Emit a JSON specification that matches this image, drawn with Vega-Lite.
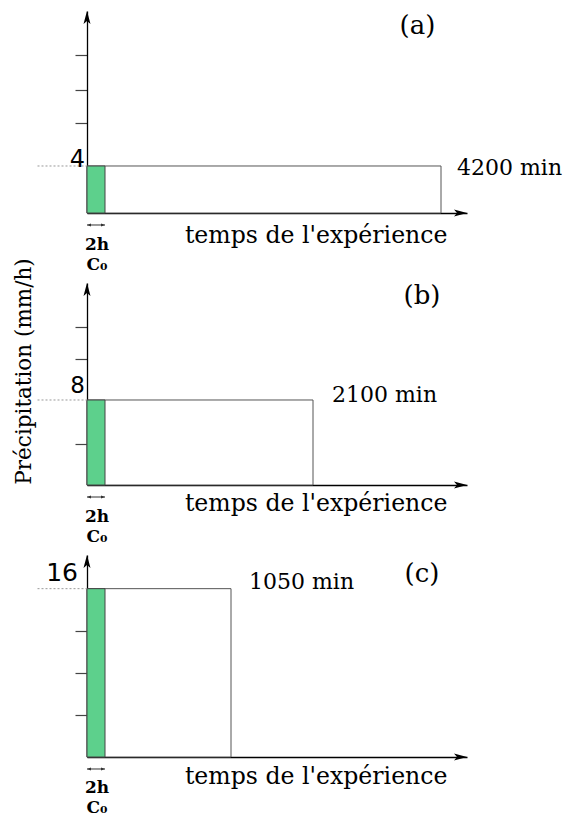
{
  "$schema": "https://vega.github.io/schema/vega-lite/v6.json",
  "background": "white",
  "padding": {"left": 12, "top": 11, "right": 5, "bottom": 5},
  "bounds": "flush",
  "spacing": 70,
  "config": {
    "view": {"stroke": null},
    "axis": {"grid": false, "domainColor": "black", "domainWidth": 1.3, "tickColor": "#444", "tickWidth": 1.2, "tickSize": 12, "labels": false, "zindex": 1, "titleFont": "DejaVu Serif", "titleFontWeight": "normal", "titleColor": "black"},
    "text": {"font": "DejaVu Serif", "color": "black"}
  },
  "vconcat": [
    {
      "width": 380, "height": 202,
      "data": {"values": [{"t0": 0, "t_c0": 120, "t_end": 4200, "p0": 0, "p": 4, "end_label": "4200 min", "dur_label": "2h", "c0_label": "C₀", "tag": "(a)"}]},
      "layer": [
        {"mark": {"type": "rect", "fill": "white", "stroke": "#555", "strokeWidth": 1},
         "encoding": {
           "x": {"field": "t0", "type": "quantitative", "scale": {"domain": [0, 120, 1050, 2100, 4200, 5000], "range": [0, 18, 144, 226, 354, 380], "nice": false, "zero": false},
                 "axis": {"ticks": false, "title": "temps de l'expérience", "titleX": 360, "titleY": 29, "titleAlign": "right", "titleBaseline": "alphabetic", "titleFontSize": 23.6}},
           "x2": {"field": "t_end"},
           "y": {"field": "p0", "type": "quantitative", "scale": {"domain": [0, 17.19], "nice": false, "zero": false}, "axis": {"values": [7.66, 10.47, 13.45], "title": null}},
           "y2": {"field": "p"}}},
        {"mark": {"type": "rect", "fill": "#5dd08c", "stroke": "#444", "strokeWidth": 1},
         "encoding": {"x": {"field": "t0", "type": "quantitative"}, "x2": {"field": "t_c0"}, "y": {"field": "p0", "type": "quantitative"}, "y2": {"field": "p"}}},
        {"mark": {"type": "rule", "strokeDash": [2, 2], "color": "#999", "strokeWidth": 1},
         "encoding": {"x": {"datum": -330, "type": "quantitative"}, "x2": {"datum": 0}, "y": {"field": "p", "type": "quantitative"}}},
        {"mark": {"type": "text", "font": "DejaVu Sans", "fontSize": 24, "align": "right", "baseline": "alphabetic", "dx": -2, "dy": 1},
         "encoding": {"x": {"field": "t0", "type": "quantitative"}, "y": {"field": "p", "type": "quantitative"}, "text": {"field": "p", "type": "nominal"}}},
        {"mark": {"type": "text", "fontSize": 22, "align": "left", "baseline": "alphabetic", "dx": 16, "dy": 9},
         "encoding": {"x": {"field": "t_end", "type": "quantitative"}, "y": {"field": "p", "type": "quantitative"}, "text": {"field": "end_label", "type": "nominal"}}},
        {"mark": {"type": "text", "fontSize": 26, "align": "center", "baseline": "middle"},
         "encoding": {"x": {"datum": 3814, "type": "quantitative"}, "y": {"datum": 15.9, "type": "quantitative"}, "text": {"field": "tag", "type": "nominal"}}},
        {"mark": {"type": "point", "shape": "M0,0L0.7,2.6L0,2L-0.7,2.6Z", "size": 100, "filled": true, "color": "black", "opacity": 1},
         "encoding": {"x": {"field": "t0", "type": "quantitative"}, "y": {"datum": 17.19, "type": "quantitative"}}},
        {"mark": {"type": "point", "shape": "M0,0L-2.6,-0.7L-2,0L-2.6,0.7Z", "size": 100, "filled": true, "color": "black", "opacity": 1},
         "encoding": {"x": {"datum": 5000, "type": "quantitative"}, "y": {"field": "p0", "type": "quantitative"}}},
        {"mark": {"type": "rule", "color": "#333", "strokeWidth": 1},
         "encoding": {"x": {"field": "t0", "type": "quantitative"}, "x2": {"field": "t_c0"}, "y": {"datum": -1.02, "type": "quantitative"}}},
        {"mark": {"type": "point", "shape": "M0,0L2,-0.8L2,0.8Z", "size": 16, "filled": true, "color": "#333", "opacity": 1},
         "encoding": {"x": {"field": "t0", "type": "quantitative"}, "y": {"datum": -1.02, "type": "quantitative"}}},
        {"mark": {"type": "point", "shape": "M0,0L-2,-0.8L-2,0.8Z", "size": 16, "filled": true, "color": "#333", "opacity": 1},
         "encoding": {"x": {"field": "t_c0", "type": "quantitative"}, "y": {"datum": -1.02, "type": "quantitative"}}},
        {"mark": {"type": "text", "fontWeight": "bold", "fontSize": 17, "align": "center", "baseline": "alphabetic", "dx": 10, "dy": 37},
         "encoding": {"x": {"field": "t0", "type": "quantitative"}, "y": {"field": "p0", "type": "quantitative"}, "text": {"field": "dur_label", "type": "nominal"}}},
        {"mark": {"type": "text", "fontWeight": "bold", "fontSize": 17, "align": "center", "baseline": "alphabetic", "dx": 10, "dy": 57},
         "encoding": {"x": {"field": "t0", "type": "quantitative"}, "y": {"field": "p0", "type": "quantitative"}, "text": {"field": "c0_label", "type": "nominal"}}}
      ]
    },
    {
      "width": 380, "height": 202,
      "data": {"values": [{"t0": 0, "t_c0": 120, "t_end": 2100, "p0": 0, "p": 8, "end_label": "2100 min", "dur_label": "2h", "c0_label": "C₀", "tag": "(b)"}]},
      "layer": [
        {"mark": {"type": "rect", "fill": "white", "stroke": "#555", "strokeWidth": 1},
         "encoding": {
           "x": {"field": "t0", "type": "quantitative", "scale": {"domain": [0, 120, 1050, 2100, 4200, 5000], "range": [0, 18, 144, 226, 354, 380], "nice": false, "zero": false},
                 "axis": {"ticks": false, "title": "temps de l'expérience", "titleX": 360, "titleY": 25, "titleAlign": "right", "titleBaseline": "alphabetic", "titleFontSize": 23.6}},
           "x2": {"field": "t_end"},
           "y": {"field": "p0", "type": "quantitative", "scale": {"domain": [0, 19.01], "nice": false, "zero": false},
                 "axis": {"values": [3.86, 11.83, 14.9], "title": "Précipitation (mm/h)", "titleX": -63, "titleY": 88, "titleAngle": -90, "titleAlign": "center", "titleBaseline": "middle", "titleFontSize": 21.5}},
           "y2": {"field": "p"}}},
        {"mark": {"type": "rect", "fill": "#5dd08c", "stroke": "#444", "strokeWidth": 1},
         "encoding": {"x": {"field": "t0", "type": "quantitative"}, "x2": {"field": "t_c0"}, "y": {"field": "p0", "type": "quantitative"}, "y2": {"field": "p"}}},
        {"mark": {"type": "rule", "strokeDash": [2, 2], "color": "#999", "strokeWidth": 1},
         "encoding": {"x": {"datum": -330, "type": "quantitative"}, "x2": {"datum": 0}, "y": {"field": "p", "type": "quantitative"}}},
        {"mark": {"type": "text", "font": "DejaVu Sans", "fontSize": 23, "align": "right", "baseline": "alphabetic", "dx": -2, "dy": -7},
         "encoding": {"x": {"field": "t0", "type": "quantitative"}, "y": {"field": "p", "type": "quantitative"}, "text": {"field": "p", "type": "nominal"}}},
        {"mark": {"type": "text", "fontSize": 22, "align": "left", "baseline": "alphabetic", "dx": 19, "dy": 2},
         "encoding": {"x": {"field": "t_end", "type": "quantitative"}, "y": {"field": "p", "type": "quantitative"}, "text": {"field": "end_label", "type": "nominal"}}},
        {"mark": {"type": "text", "fontSize": 26, "align": "center", "baseline": "middle"},
         "encoding": {"x": {"datum": 3888, "type": "quantitative"}, "y": {"datum": 17.8, "type": "quantitative"}, "text": {"field": "tag", "type": "nominal"}}},
        {"mark": {"type": "point", "shape": "M0,0L0.7,2.6L0,2L-0.7,2.6Z", "size": 100, "filled": true, "color": "black", "opacity": 1},
         "encoding": {"x": {"field": "t0", "type": "quantitative"}, "y": {"datum": 19.01, "type": "quantitative"}}},
        {"mark": {"type": "point", "shape": "M0,0L-2.6,-0.7L-2,0L-2.6,0.7Z", "size": 100, "filled": true, "color": "black", "opacity": 1},
         "encoding": {"x": {"datum": 5000, "type": "quantitative"}, "y": {"field": "p0", "type": "quantitative"}}},
        {"mark": {"type": "rule", "color": "#333", "strokeWidth": 1},
         "encoding": {"x": {"field": "t0", "type": "quantitative"}, "x2": {"field": "t_c0"}, "y": {"datum": -1.13, "type": "quantitative"}}},
        {"mark": {"type": "point", "shape": "M0,0L2,-0.8L2,0.8Z", "size": 16, "filled": true, "color": "#333", "opacity": 1},
         "encoding": {"x": {"field": "t0", "type": "quantitative"}, "y": {"datum": -1.13, "type": "quantitative"}}},
        {"mark": {"type": "point", "shape": "M0,0L-2,-0.8L-2,0.8Z", "size": 16, "filled": true, "color": "#333", "opacity": 1},
         "encoding": {"x": {"field": "t_c0", "type": "quantitative"}, "y": {"datum": -1.13, "type": "quantitative"}}},
        {"mark": {"type": "text", "fontWeight": "bold", "fontSize": 17, "align": "center", "baseline": "alphabetic", "dx": 10, "dy": 37},
         "encoding": {"x": {"field": "t0", "type": "quantitative"}, "y": {"field": "p0", "type": "quantitative"}, "text": {"field": "dur_label", "type": "nominal"}}},
        {"mark": {"type": "text", "fontWeight": "bold", "fontSize": 17, "align": "center", "baseline": "alphabetic", "dx": 10, "dy": 57},
         "encoding": {"x": {"field": "t0", "type": "quantitative"}, "y": {"field": "p0", "type": "quantitative"}, "text": {"field": "c0_label", "type": "nominal"}}}
      ]
    },
    {
      "width": 380, "height": 202,
      "data": {"values": [{"t0": 0, "t_c0": 120, "t_end": 1050, "p0": 0, "p": 16, "end_label": "1050 min", "dur_label": "2h", "c0_label": "C₀", "tag": "(c)"}]},
      "layer": [
        {"mark": {"type": "rect", "fill": "white", "stroke": "#555", "strokeWidth": 1},
         "encoding": {
           "x": {"field": "t0", "type": "quantitative", "scale": {"domain": [0, 120, 1050, 2100, 4200, 5000], "range": [0, 18, 144, 226, 354, 380], "nice": false, "zero": false},
                 "axis": {"ticks": false, "title": "temps de l'expérience", "titleX": 360, "titleY": 26, "titleAlign": "right", "titleBaseline": "alphabetic", "titleFontSize": 23.6}},
           "x2": {"field": "t_end"},
           "y": {"field": "p0", "type": "quantitative", "scale": {"domain": [0, 19.2], "nice": false, "zero": false}, "axis": {"values": [4, 8, 12], "title": null}},
           "y2": {"field": "p"}}},
        {"mark": {"type": "rect", "fill": "#5dd08c", "stroke": "#444", "strokeWidth": 1},
         "encoding": {"x": {"field": "t0", "type": "quantitative"}, "x2": {"field": "t_c0"}, "y": {"field": "p0", "type": "quantitative"}, "y2": {"field": "p"}}},
        {"mark": {"type": "rule", "strokeDash": [2, 2], "color": "#999", "strokeWidth": 1},
         "encoding": {"x": {"datum": -330, "type": "quantitative"}, "x2": {"datum": 0}, "y": {"field": "p", "type": "quantitative"}}},
        {"mark": {"type": "text", "font": "DejaVu Sans", "fontSize": 25, "align": "right", "baseline": "alphabetic", "dx": -9, "dy": -8},
         "encoding": {"x": {"field": "t0", "type": "quantitative"}, "y": {"field": "p", "type": "quantitative"}, "text": {"field": "p", "type": "nominal"}}},
        {"mark": {"type": "text", "fontSize": 22, "align": "left", "baseline": "alphabetic", "dx": 18, "dy": 0},
         "encoding": {"x": {"field": "t_end", "type": "quantitative"}, "y": {"field": "p", "type": "quantitative"}, "text": {"field": "end_label", "type": "nominal"}}},
        {"mark": {"type": "text", "fontSize": 26, "align": "center", "baseline": "middle"},
         "encoding": {"x": {"datum": 3888, "type": "quantitative"}, "y": {"datum": 17.4, "type": "quantitative"}, "text": {"field": "tag", "type": "nominal"}}},
        {"mark": {"type": "point", "shape": "M0,0L0.7,2.6L0,2L-0.7,2.6Z", "size": 100, "filled": true, "color": "black", "opacity": 1},
         "encoding": {"x": {"field": "t0", "type": "quantitative"}, "y": {"datum": 19.2, "type": "quantitative"}}},
        {"mark": {"type": "point", "shape": "M0,0L-2.6,-0.7L-2,0L-2.6,0.7Z", "size": 100, "filled": true, "color": "black", "opacity": 1},
         "encoding": {"x": {"datum": 5000, "type": "quantitative"}, "y": {"field": "p0", "type": "quantitative"}}},
        {"mark": {"type": "rule", "color": "#333", "strokeWidth": 1},
         "encoding": {"x": {"field": "t0", "type": "quantitative"}, "x2": {"field": "t_c0"}, "y": {"datum": -1.14, "type": "quantitative"}}},
        {"mark": {"type": "point", "shape": "M0,0L2,-0.8L2,0.8Z", "size": 16, "filled": true, "color": "#333", "opacity": 1},
         "encoding": {"x": {"field": "t0", "type": "quantitative"}, "y": {"datum": -1.14, "type": "quantitative"}}},
        {"mark": {"type": "point", "shape": "M0,0L-2,-0.8L-2,0.8Z", "size": 16, "filled": true, "color": "#333", "opacity": 1},
         "encoding": {"x": {"field": "t_c0", "type": "quantitative"}, "y": {"datum": -1.14, "type": "quantitative"}}},
        {"mark": {"type": "text", "fontWeight": "bold", "fontSize": 17, "align": "center", "baseline": "alphabetic", "dx": 10, "dy": 36},
         "encoding": {"x": {"field": "t0", "type": "quantitative"}, "y": {"field": "p0", "type": "quantitative"}, "text": {"field": "dur_label", "type": "nominal"}}},
        {"mark": {"type": "text", "fontWeight": "bold", "fontSize": 17, "align": "center", "baseline": "alphabetic", "dx": 10, "dy": 56},
         "encoding": {"x": {"field": "t0", "type": "quantitative"}, "y": {"field": "p0", "type": "quantitative"}, "text": {"field": "c0_label", "type": "nominal"}}}
      ]
    }
  ]
}
